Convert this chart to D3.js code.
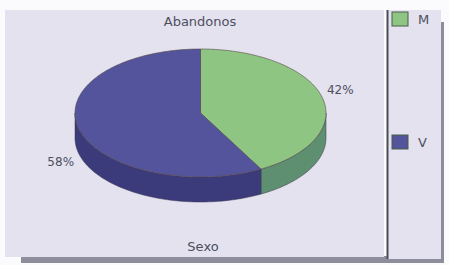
<!DOCTYPE html>
<html lang="es">
<head>
  <meta charset="UTF-8">
  <title>Abandonos</title>
  <script src="https://d3js.org/d3.v7.min.js"></script>
  <style>
    body { margin: 0; background: #fbfbfd; }
    text { font-family: "DejaVu Sans", sans-serif; fill: #4e4e5e; }
  </style>
</head>
<body>
<div id="chart"></div>
<script>
  // data
  var categories = ["M", "V"];
  var values = [42, 58];
  var labels = ["42%", "58%"];
  var title = "Abandonos";
  var axisTitle = "Sexo";

  var W = 449, H = 265;
  var svg = d3.select("#chart").append("svg")
    .attr("width", W).attr("height", H);

  // shadows
  svg.append("rect").attr("x", 21).attr("y", 256).attr("width", 422).attr("height", 7).attr("fill", "#8e8d9c");
  svg.append("rect").attr("x", 436).attr("y", 22).attr("width", 8).attr("height", 241).attr("fill", "#8e8d9c");

  // main panel + legend panel
  svg.append("rect").attr("x", 5).attr("y", 10).attr("width", 379).attr("height", 247).attr("fill", "#e3e2ee");
  svg.append("rect").attr("x", 388).attr("y", 10).attr("width", 53).attr("height", 249).attr("fill", "#e3e2ee");
  svg.append("line").attr("x1", 387.5).attr("x2", 387.5).attr("y1", 10).attr("y2", 259)
    .attr("stroke", "#4a4a58").attr("stroke-width", 2);

  var color = d3.scaleOrdinal().domain(categories).range(["#8ec583", "#53549b"]);
  var side = d3.scaleOrdinal().domain(categories).range(["#5e8f70", "#3b3a7a"]);

  var cx = 200.5, cy = 113, rx = 125.5, ry = 64, depth = 25;

  var pie = d3.pie().sort(null).value(function(d, i) { return values[i]; });
  var arcs = pie(categories);

  function pt(a, r1, r2, dy) {
    return [cx + rx * r1 * Math.sin(a), cy - ry * r2 * Math.cos(a) + (dy || 0)];
  }

  function arcPts(a0, a1, dy) {
    var n = Math.max(2, Math.ceil((a1 - a0) / 0.02)), p = [];
    for (var k = 0; k <= n; k++) p.push(pt(a0 + (a1 - a0) * k / n, 1, 1, dy));
    return p;
  }

  var g = svg.append("g");

  // side walls (front half only)
  arcs.forEach(function(d) {
    var a0 = Math.max(d.startAngle, Math.PI / 2), a1 = Math.min(d.endAngle, 3 * Math.PI / 2);
    if (a1 <= a0) return;
    var top = arcPts(a0, a1, 0), bot = arcPts(a0, a1, depth).reverse();
    g.append("path")
      .attr("d", d3.line()(top.concat(bot)) + "Z")
      .attr("fill", side(d.data))
      .attr("stroke", "#3a3450").attr("stroke-width", 0.5);
  });

  // top slices
  arcs.forEach(function(d) {
    var p = [[cx, cy]].concat(arcPts(d.startAngle, d.endAngle, 0));
    g.append("path")
      .attr("d", d3.line()(p) + "Z")
      .attr("fill", color(d.data))
      .attr("stroke", "#5a4a48").attr("stroke-width", 0.6);
  });

  // percentage labels
  arcs.forEach(function(d, i) {
    var m = (d.startAngle + d.endAngle) / 2;
    var front = Math.cos(m) < 0 ? depth : 0;
    var p = pt(m, 1.15, 1.5, front);
    svg.append("text")
      .attr("x", p[0]).attr("y", p[1] + 4.5)
      .attr("text-anchor", "middle")
      .attr("font-size", 12)
      .text(labels[i]);
  });

  svg.append("text").attr("x", 200).attr("y", 26).attr("text-anchor", "middle")
    .attr("font-size", 13).text(title);
  svg.append("text").attr("x", 203).attr("y", 251).attr("text-anchor", "middle")
    .attr("font-size", 13).text(axisTitle);

  // legend
  var ly = d3.scalePoint().domain(categories).range([12, 135]);
  var lg = svg.append("g").selectAll("g").data(categories).enter().append("g")
    .attr("transform", function(d) { return "translate(392," + ly(d) + ")"; });
  lg.append("rect").attr("width", 16).attr("height", 14)
    .attr("fill", function(d) { return color(d); })
    .attr("stroke", "#4a5a48").attr("stroke-width", 1);
  lg.append("text").attr("x", 26).attr("y", 12).attr("font-size", 13).text(function(d) { return d; });
</script>
</body>
</html>
